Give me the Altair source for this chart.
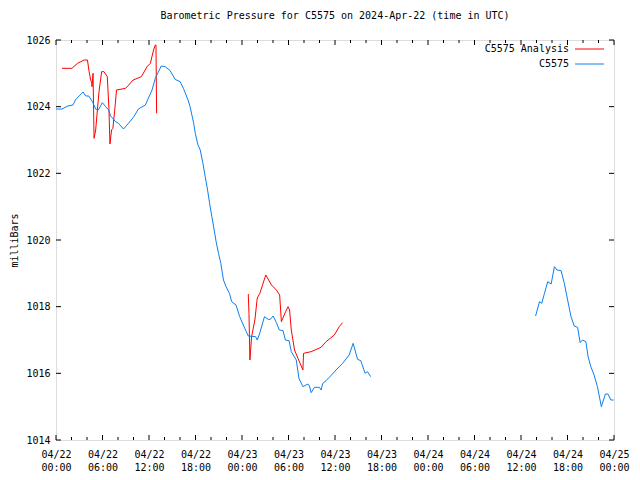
import json
import altair as alt
import pandas as pd

# ---- data (hours since 2024-04-22 00:00 UTC, pressure in mbar) ----
red1_h = [0.77, 2.05, 2.78, 3.63, 4.06, 4.27, 4.48, 4.61, 4.65, 4.78, 4.91, 5.12, 5.34, 5.55, 5.89,
          6.19, 6.62, 6.83, 6.96, 7.17, 7.34, 7.60, 7.81, 8.97, 9.39, 9.95, 11.02, 11.75, 12.17,
          12.59, 12.81, 12.90, 12.98]
red1_v = [1025.15, 1025.15, 1025.3, 1025.4, 1025.4, 1025.05, 1024.8, 1024.7, 1024.6, 1025.0, 1023.05,
          1023.3, 1023.9, 1024.45, 1025.05, 1025.05, 1024.9, 1023.95, 1022.88, 1023.3, 1023.35,
          1023.95, 1024.5, 1024.55, 1024.65, 1024.8, 1024.9, 1025.2, 1025.3, 1025.7, 1025.85,
          1025.85, 1023.8]

red2_h = [24.81, 24.90, 25.02, 25.24, 25.66, 25.97, 26.30, 27.07, 27.80, 28.44, 28.86, 29.08, 29.63,
          29.94, 30.14, 30.36, 30.78, 31.22, 31.86, 31.94, 32.92, 34.20, 34.85, 35.91, 36.55, 36.98]
red2_v = [1018.38, 1017.8, 1016.4, 1017.1, 1017.6, 1018.26, 1018.4, 1018.95, 1018.65, 1018.5,
          1018.35, 1017.55, 1017.85, 1018.0, 1017.9, 1017.3, 1016.7, 1016.45, 1016.1, 1016.6,
          1016.65, 1016.78, 1016.95, 1017.15, 1017.4, 1017.52]

blue1_h = [0.0, 0.77, 1.54, 2.18, 2.56, 3.50, 3.84, 4.23, 4.70, 5.12, 5.47, 5.98, 6.41, 6.79, 7.05,
           7.69, 8.07, 8.71, 9.35, 9.99, 10.63, 11.53, 12.39, 12.81, 13.58, 14.09, 14.73, 15.37,
           16.01, 16.44, 17.04, 17.30, 17.77, 17.97, 18.32, 18.61, 18.96, 19.25, 19.56, 19.82,
           20.11, 20.41, 20.66, 20.97, 21.27, 21.61, 21.94, 22.38, 22.67, 23.23, 23.70, 24.34,
           24.81, 25.75, 25.97, 26.26, 26.90, 27.38, 27.67, 28.02, 28.44, 28.82, 29.30, 29.59,
           30.07, 30.36, 31.00, 31.35, 31.86, 32.50, 32.71, 32.92, 33.35, 33.99, 34.20, 34.42,
           34.85, 35.27, 36.13, 36.98, 37.83, 38.34, 38.91, 39.33, 39.88, 40.19, 40.61]
blue1_v = [1023.93, 1023.93, 1024.02, 1024.05, 1024.22, 1024.44, 1024.32, 1024.32, 1024.15, 1023.93,
           1023.9, 1024.12, 1024.0, 1023.9, 1023.72, 1023.55, 1023.5, 1023.33, 1023.5, 1023.68,
           1023.93, 1024.05, 1024.5, 1024.85, 1025.22, 1025.2, 1025.08, 1024.82, 1024.75, 1024.55,
           1024.2, 1024.0, 1023.5, 1023.2, 1022.85, 1022.7, 1022.3, 1021.9, 1021.5, 1021.1,
           1020.7, 1020.3, 1019.95, 1019.6, 1019.3, 1018.8, 1018.6, 1018.4, 1018.15, 1018.05,
           1017.7, 1017.36, 1017.12, 1017.1, 1017.0, 1017.18, 1017.7, 1017.62, 1017.62, 1017.72,
           1017.52, 1017.3, 1017.28, 1017.0, 1016.98, 1016.65, 1016.4, 1015.85, 1015.6, 1015.68,
           1015.62, 1015.42, 1015.58, 1015.58, 1015.5, 1015.7, 1015.78, 1015.88, 1016.1, 1016.3,
           1016.55, 1016.9, 1016.42, 1016.38, 1016.0, 1016.05, 1015.9]

blue2_h = [61.88, 62.39, 62.68, 63.03, 63.45, 63.89, 64.31, 64.65, 65.17, 65.59, 66.02, 66.45,
           66.87, 67.30, 67.64, 67.94, 68.37, 68.66, 69.01, 69.43, 69.86, 70.37, 70.89, 71.22,
           71.60, 71.95]
blue2_v = [1017.72, 1018.15, 1018.1, 1018.4, 1018.75, 1018.68, 1019.2, 1019.1, 1019.08, 1018.7,
           1018.2, 1017.7, 1017.42, 1017.38, 1016.92, 1017.0, 1016.95, 1016.5, 1016.2, 1015.95,
           1015.6, 1015.0, 1015.38, 1015.38, 1015.2, 1015.2]

series_names = ["C5575 Analysis", "C5575"]
series_colors = ["#ff0000", "#0a80f0"]

x_major = [0, 6, 12, 18, 24, 30, 36, 42, 48, 54, 60, 66, 72]
x_minor = [h for h in range(0, 73, 2) if h % 6 != 0]
date_labels = ["04/22", "04/22", "04/22", "04/22", "04/23", "04/23", "04/23", "04/23",
               "04/24", "04/24", "04/24", "04/24", "04/25"]
time_labels = ["00:00", "06:00", "12:00", "18:00", "00:00", "06:00", "12:00", "18:00",
               "00:00", "06:00", "12:00", "18:00", "00:00"]
y_major = [1014, 1016, 1018, 1020, 1022, 1024, 1026]

# ---- build tables ----
rows = []
for name, seg, hs, vs in [
    (series_names[0], "r1", red1_h, red1_v),
    (series_names[0], "r2", red2_h, red2_v),
    (series_names[1], "b1", blue1_h, blue1_v),
    (series_names[1], "b2", blue2_h, blue2_v),
]:
    for h, v in zip(hs, vs):
        rows.append({"series": name, "seg": seg, "h": h, "p": v})
df = pd.DataFrame(rows)

W, H = 558, 400
FONT = "DejaVu Sans Mono"

label_expr = ("[" + json.dumps(date_labels) + "[round(datum.value/6)], "
              + json.dumps(time_labels) + "[round(datum.value/6)]]")

xscale = alt.Scale(domain=[0, 72], nice=False, zero=False)
yscale = alt.Scale(domain=[1014, 1026], nice=False, zero=False)

lines = alt.Chart(df).mark_line(strokeWidth=1).encode(
    x=alt.X("h:Q", scale=xscale, title=None,
            axis=alt.Axis(values=x_major, labelExpr=label_expr, ticks=False, domain=False,
                          grid=False, labelFont=FONT, labelFontSize=10, labelColor="black",
                          labelPadding=9, labelLineHeight=13, labelFlush=False,
                          labelOverlap=False)),
    y=alt.Y("p:Q", scale=yscale, title="milliBars",
            axis=alt.Axis(values=y_major, format="d", ticks=False, domain=False, grid=False,
                          labelFont=FONT, labelFontSize=10, labelColor="black",
                          labelPadding=6, titleFont=FONT, titleFontSize=10,
                          titleFontWeight="normal", titleColor="black", titlePadding=6)),
    color=alt.Color("series:N", scale=alt.Scale(domain=series_names, range=series_colors),
                    legend=None),
    detail="seg:N",
)

xmaj = pd.DataFrame({"h": x_major})
xmin = pd.DataFrame({"h": x_minor})
ymaj = pd.DataFrame({"p": y_major})

def xticks(d, length):
    bottom = alt.Chart(d).mark_rule(color="black", strokeWidth=1).encode(
        x=alt.X("h:Q", scale=xscale), y=alt.value(H), y2=alt.value(H - length))
    top = alt.Chart(d).mark_rule(color="black", strokeWidth=1).encode(
        x=alt.X("h:Q", scale=xscale), y=alt.value(0), y2=alt.value(length))
    return bottom + top

yt_left = alt.Chart(ymaj).mark_rule(color="black", strokeWidth=1).encode(
    y=alt.Y("p:Q", scale=yscale), x=alt.value(0), x2=alt.value(5))
yt_right = alt.Chart(ymaj).mark_rule(color="black", strokeWidth=1).encode(
    y=alt.Y("p:Q", scale=yscale), x=alt.value(W), x2=alt.value(W - 5))

legend_layers = []
for i, (name, col) in enumerate(zip(series_names, series_colors)):
    ld = pd.DataFrame({"name": [name]})
    yy = 9 + 15 * i
    legend_layers.append(
        alt.Chart(ld).mark_text(align="right", baseline="middle", font=FONT, fontSize=10,
                                color="black").encode(
            text="name:N", x=alt.value(W - 45), y=alt.value(yy)))
    legend_layers.append(
        alt.Chart(ld).mark_rule(color=col, strokeWidth=1).encode(
            x=alt.value(W - 39), x2=alt.value(W - 10), y=alt.value(yy)))

chart = alt.layer(
    lines, xticks(xmaj, 5), xticks(xmin, 3), yt_left, yt_right, *legend_layers
).properties(
    width=W, height=H,
    title=alt.TitleParams("Barometric Pressure for C5575 on 2024-Apr-22 (time in UTC)",
                          font=FONT, fontSize=10, fontWeight="normal", color="black",
                          offset=14, anchor="middle"),
    autosize=alt.AutoSizeParams(type="none"),
    padding={"left": 48, "top": 32, "right": 18, "bottom": 34},
).configure_view(stroke="black", strokeWidth=1).configure(background="white")

chart.save("out.html", embed_options={"renderer": "svg", "actions": False})
